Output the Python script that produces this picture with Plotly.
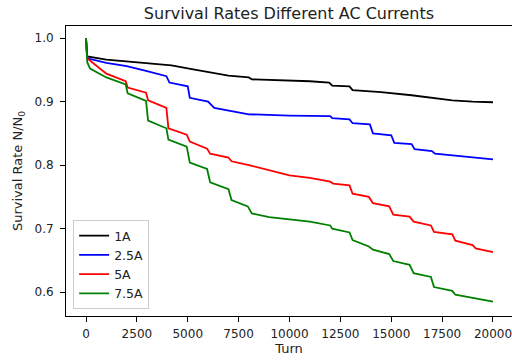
import plotly.graph_objects as go

# Data (turn, survival rate)
turn_1a = [0, 60, 1000, 3000, 4200, 5200, 6400, 7000, 8000, 8150, 11000, 11950, 12100, 12950, 13100, 14500, 16000, 17000, 18000, 19000, 20000]
rate_1a = [1.0, 0.971, 0.966, 0.961, 0.957, 0.951, 0.944, 0.941, 0.938, 0.935, 0.932, 0.930, 0.925, 0.924, 0.918, 0.915, 0.910, 0.906, 0.902, 0.900, 0.899]

turn_25a = [0, 60, 1000, 2000, 3000, 3950, 4100, 5000, 5100, 6000, 6300, 7000, 8000, 10000, 12000, 12100, 12950, 13100, 13950, 14100, 15000, 15150, 16000, 16150, 17000, 17150, 18000, 20000]
rate_25a = [1.0, 0.968, 0.961, 0.956, 0.948, 0.940, 0.930, 0.924, 0.906, 0.900, 0.890, 0.886, 0.880, 0.878, 0.877, 0.874, 0.872, 0.866, 0.864, 0.850, 0.847, 0.835, 0.833, 0.825, 0.822, 0.818, 0.815, 0.809]

turn_5a = [0, 60, 300, 1000, 1950, 2050, 2950, 3050, 3950, 4050, 4950, 5100, 5950, 6100, 7000, 7150, 8000, 9000, 10000, 11000, 12000, 12150, 12950, 13100, 13900, 14100, 14900, 15100, 15900, 16100, 16950, 17100, 18000, 18150, 19000, 19150, 20000]
rate_5a = [1.0, 0.968, 0.962, 0.944, 0.932, 0.922, 0.914, 0.902, 0.890, 0.858, 0.848, 0.837, 0.826, 0.818, 0.812, 0.806, 0.800, 0.792, 0.784, 0.780, 0.774, 0.771, 0.768, 0.755, 0.750, 0.740, 0.735, 0.722, 0.719, 0.711, 0.705, 0.695, 0.691, 0.681, 0.674, 0.669, 0.663]

turn_75a = [0, 60, 200, 1000, 1950, 2050, 2950, 3050, 3950, 4050, 4950, 5100, 5950, 6100, 7000, 7150, 7950, 8150, 9000, 10000, 11000, 12000, 12100, 12950, 13100, 13900, 14100, 14900, 15100, 15900, 16100, 16950, 17100, 18000, 18150, 20000]
rate_75a = [1.0, 0.962, 0.952, 0.938, 0.927, 0.913, 0.901, 0.870, 0.858, 0.840, 0.829, 0.804, 0.794, 0.773, 0.762, 0.745, 0.735, 0.724, 0.718, 0.715, 0.711, 0.705, 0.700, 0.694, 0.682, 0.672, 0.667, 0.660, 0.649, 0.643, 0.630, 0.624, 0.608, 0.602, 0.596, 0.585]

labels = ["1A", "2.5A", "5A", "7.5A"]
colors = ["#000000", "#0000ff", "#ff0000", "#008000"]
x_ticks = [0, 2500, 5000, 7500, 10000, 12500, 15000, 17500, 20000]
y_ticks = [0.6, 0.7, 0.8, 0.9, 1.0]

series = [(turn_1a, rate_1a), (turn_25a, rate_25a), (turn_5a, rate_5a), (turn_75a, rate_75a)]

fig = go.Figure()
for (tx, ty), lab, col in zip(series, labels, colors):
    fig.add_trace(go.Scatter(x=tx, y=ty, mode="lines", name=lab,
                             line=dict(color=col, width=1.8)))

font = "DejaVu Sans, Arial, sans-serif"
fig.update_layout(
    width=512, height=361,
    margin=dict(l=66, r=0, t=26, b=45),
    paper_bgcolor="white", plot_bgcolor="white",
    font=dict(family=font, size=12, color="#222222"),
    title=dict(text="Survival Rates Different AC Currents", x=0.5, xref="paper",
               xanchor="center", y=1 - 13 / 361, yanchor="middle",
               font=dict(size=16, family=font, color="#222222")),
    showlegend=True,
    legend=dict(x=0.016, y=0.024, xanchor="left", yanchor="bottom",
                bordercolor="#cccccc", borderwidth=1, bgcolor="rgba(255,255,255,0.8)",
                font=dict(size=12.5, family=font), tracegroupgap=0, itemwidth=30),
    xaxis=dict(range=[-983, 20934], tickvals=x_ticks, ticktext=[str(v) for v in x_ticks],
               showgrid=False, zeroline=False, showline=True, linecolor="black",
               linewidth=1, mirror=True, ticks="outside", ticklen=5, tickcolor="black",
               ticklabelstandoff=2, ticklabeloverflow="allow", automargin=False,
               title=dict(text="Turn", standoff=3, font=dict(size=13))),
    yaxis=dict(range=[0.5625, 1.019], tickvals=y_ticks, ticktext=["0.6", "0.7", "0.8", "0.9", "1.0"],
               showgrid=False, zeroline=False, showline=True, linecolor="black",
               linewidth=1, mirror=False, ticks="outside", ticklen=5, tickcolor="black",
               ticklabelstandoff=4,
               title=dict(text="Survival Rate N/N<sub>0</sub>", standoff=8, font=dict(size=13))),
)

fig.write_html("out.html")
